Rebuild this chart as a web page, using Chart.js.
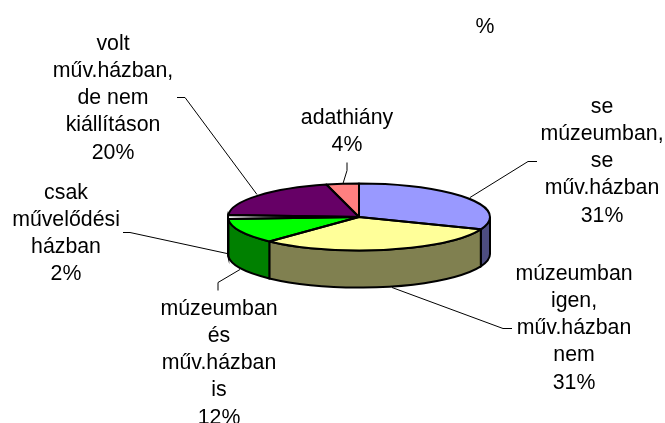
<!DOCTYPE html>
<html lang="en">
<head>
    <title>Múzeum / művelődési ház</title>
    <meta charset="utf-8">
    <script src="https://cdn.jsdelivr.net/npm/chart.js"></script>
    <style>
        html, body { margin: 0; padding: 0; background: #fff; }
        canvas { display: block; }
    </style>
</head>
<body>
    <canvas id="pieChart" width="665" height="423"></canvas>

    <script>
        var title = '%';
        var categories = [
            ['se', 'múzeumban,', 'se', 'műv.házban'],
            ['múzeumban', 'igen,', 'műv.házban', 'nem'],
            ['múzeumban', 'és', 'műv.házban', 'is'],
            ['csak', 'művelődési', 'házban'],
            ['volt', 'műv.házban,', 'de nem', 'kiállításon'],
            ['adathiány']
        ];
        var values = [31, 31, 12, 2, 20, 4];
        var topColors = ['#9999ff', '#ffff99', '#00ff00', '#ffffff', '#660066', '#ff8080'];
        var wallColors = ['#4d4d80', '#808050', '#008000', '#808080', '#330033', '#804040'];

        // where each label sits and how its leader line runs
        var labelPos = [
            { x: 602, y: 107 },
            { x: 574, y: 274 },
            { x: 219, y: 309 },
            { x: 66, y: 193 },
            { x: 113, y: 44 },
            { x: 347, y: 118 }
        ];
        var leaders = [
            [[537, 161], [528, 161], [470, 197]],
            [[512, 328], [503, 328], [392, 287]],
            [[218, 290], [218, 282], [240, 269]],
            [[123, 232], [130, 232], [227, 253]],
            [[177, 97], [185, 97], [257, 194]],
            [[347, 162], [347, 170], [343, 183]]
        ];

        var tilt = 33.5 / 131;   // height/width of the top ellipse
        var depth = 37;
        var lineHeight = 27.2;
        var fontCss = '21.3px "Liberation Sans", Arial, sans-serif';

        var pie3d = {
            id: 'pie3d',
            beforeDatasetDraw: function (chart, args) {
                var ctx = chart.ctx;
                var arcs = chart.getDatasetMeta(args.index).data;
                var cx = arcs[0].x, cy = arcs[0].y, r = arcs[0].outerRadius;
                var ry = r * tilt;

                // side wall, only the front half of the rim can be seen
                arcs.forEach(function (arc, i) {
                    var a0 = Math.max(arc.startAngle, 0);
                    var a1 = Math.min(arc.endAngle, Math.PI);
                    if (a1 <= a0) return;
                    ctx.beginPath();
                    ctx.ellipse(cx, cy, r, ry, 0, a0, a1);
                    ctx.ellipse(cx, cy + depth, r, ry, 0, a1, a0, true);
                    ctx.closePath();
                    ctx.fillStyle = wallColors[i];
                    ctx.fill();
                    ctx.lineWidth = 2;
                    ctx.strokeStyle = '#000';
                    ctx.stroke();
                });

                ctx.save();
                ctx.translate(cx, cy);
                ctx.scale(1, tilt);
                ctx.translate(-cx, -cy);
            },
            afterDatasetDraw: function (chart, args) {
                var ctx = chart.ctx;
                ctx.restore();
                var arcs = chart.getDatasetMeta(args.index).data;
                var cx = arcs[0].x, cy = arcs[0].y, r = arcs[0].outerRadius;
                var ry = r * tilt;

                // outlines are stroked here so the tilt does not thin them
                ctx.lineWidth = 2;
                ctx.strokeStyle = '#000';
                ctx.lineJoin = 'round';
                arcs.forEach(function (arc) {
                    ctx.beginPath();
                    ctx.moveTo(cx, cy);
                    ctx.ellipse(cx, cy, r, ry, 0, arc.startAngle, arc.endAngle);
                    ctx.closePath();
                    ctx.stroke();
                });
            },
            afterDraw: function (chart) {
                var ctx = chart.ctx;
                ctx.save();

                ctx.strokeStyle = '#000';
                ctx.lineWidth = 1;
                leaders.forEach(function (pts) {
                    ctx.beginPath();
                    pts.forEach(function (p, i) {
                        if (i === 0) ctx.moveTo(p[0], p[1] + 0.5);
                        else ctx.lineTo(p[0], p[1] + 0.5);
                    });
                    ctx.stroke();
                });

                ctx.fillStyle = '#000';
                ctx.font = fontCss;
                ctx.textAlign = 'center';
                ctx.textBaseline = 'middle';
                ctx.fillText(title, 485, 27);
                categories.forEach(function (lines, i) {
                    var all = lines.concat(values[i] + '%');
                    all.forEach(function (line, j) {
                        ctx.fillText(line, labelPos[i].x, labelPos[i].y + j * lineHeight);
                    });
                });
                ctx.restore();
            }
        };

        var chart = new Chart(document.getElementById('pieChart').getContext('2d'), {
            type: 'pie',
            data: {
                labels: categories.map(function (c) { return c.join(' '); }),
                datasets: [{
                    data: values,
                    backgroundColor: topColors,
                    borderWidth: 0
                }]
            },
            options: {
                responsive: false,
                animation: false,
                layout: { padding: { left: 228, right: 175, top: 86, bottom: 75 } },
                plugins: {
                    legend: { display: false },
                    tooltip: { enabled: false }
                }
            },
            plugins: [pie3d]
        });
    </script>
</body>
</html>
